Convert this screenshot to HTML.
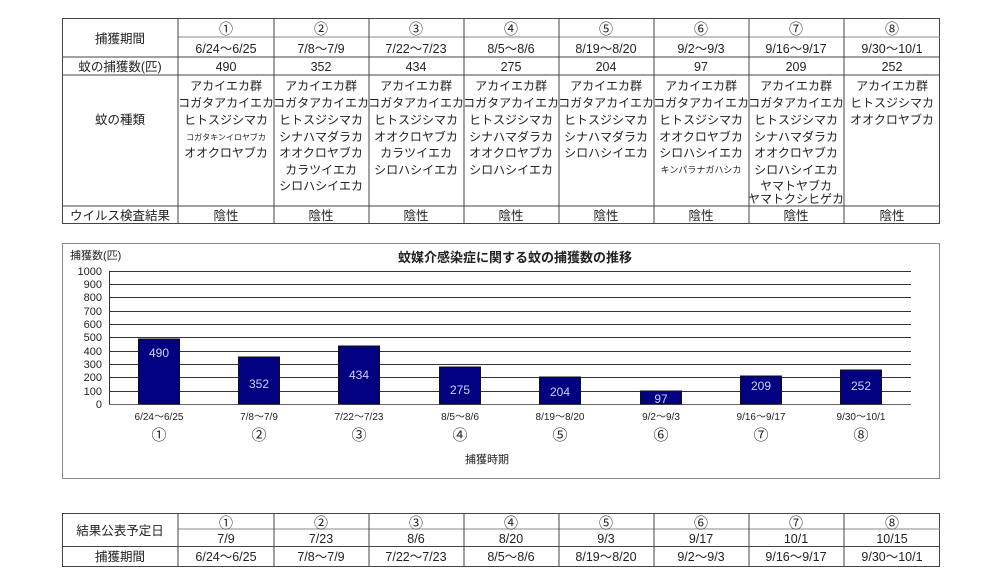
<!DOCTYPE html>
<html><head><meta charset="utf-8"><style>
body{margin:0;background:#fff;}
svg text{font-family:"Liberation Sans","Noto Sans CJK JP",sans-serif;fill:#222;}
svg text.bl{fill:#d0d0ff;}
svg .circ text{font-family:"Noto Sans CJK JP",sans-serif;}
</style></head><body>
<svg width="1000" height="583" viewBox="0 0 1000 583" xmlns="http://www.w3.org/2000/svg">
<g stroke="#444" stroke-width="1" fill="none">
<rect x="62.5" y="18.5" width="877" height="205"/>
<line x1="178" y1="37" x2="940" y2="37" stroke="#888"/>
<line x1="62" y1="57" x2="940" y2="57"/>
<line x1="62" y1="75" x2="940" y2="75"/>
<line x1="62" y1="206" x2="940" y2="206"/>
<line x1="178" y1="18" x2="178" y2="223"/>
<line x1="274" y1="18" x2="274" y2="223"/>
<line x1="369" y1="18" x2="369" y2="223"/>
<line x1="464" y1="18" x2="464" y2="223"/>
<line x1="559" y1="18" x2="559" y2="223"/>
<line x1="654" y1="18" x2="654" y2="223"/>
<line x1="749" y1="18" x2="749" y2="223"/>
<line x1="844" y1="18" x2="844" y2="223"/>
</g>
<g font-size="12.5" text-anchor="middle">
<text x="120" y="43">捕獲期間</text>
<text x="120" y="71">蚊の捕獲数(匹)</text>
<text x="120" y="124">蚊の種類</text>
<text x="120" y="220">ウイルス検査結果</text>
</g>
<g font-size="14" text-anchor="middle" class="circ">
<text x="226" y="34">①</text><text x="321" y="34">②</text><text x="416" y="34">③</text><text x="511" y="34">④</text><text x="606" y="34">⑤</text><text x="701" y="34">⑥</text><text x="796" y="34">⑦</text><text x="892" y="34">⑧</text>
</g>
<g font-size="12.5" text-anchor="middle">
<text x="226" y="53">6/24～6/25</text><text x="321" y="53">7/8～7/9</text><text x="416" y="53">7/22～7/23</text><text x="511" y="53">8/5～8/6</text><text x="606" y="53">8/19～8/20</text><text x="701" y="53">9/2～9/3</text><text x="796" y="53">9/16～9/17</text><text x="892" y="53">9/30～10/1</text>
<text x="226" y="71">490</text><text x="321" y="71">352</text><text x="416" y="71">434</text><text x="511" y="71">275</text><text x="606" y="71">204</text><text x="701" y="71">97</text><text x="796" y="71">209</text><text x="892" y="71">252</text>
<text x="226" y="220">陰性</text><text x="321" y="220">陰性</text><text x="416" y="220">陰性</text><text x="511" y="220">陰性</text><text x="606" y="220">陰性</text><text x="701" y="220">陰性</text><text x="796" y="220">陰性</text><text x="892" y="220">陰性</text>
</g>
<g font-size="12" text-anchor="middle">
<g transform="translate(226,0)"><text y="90">アカイエカ群</text><text y="107">コガタアカイエカ</text><text y="124">ヒトスジシマカ</text><text y="140" font-size="8">コガタキンイロヤブカ</text><text y="157">オオクロヤブカ</text></g>
<g transform="translate(321,0)"><text y="90">アカイエカ群</text><text y="107">コガタアカイエカ</text><text y="124">ヒトスジシマカ</text><text y="141">シナハマダラカ</text><text y="157">オオクロヤブカ</text><text y="174">カラツイエカ</text><text y="190">シロハシイエカ</text></g>
<g transform="translate(416,0)"><text y="90">アカイエカ群</text><text y="107">コガタアカイエカ</text><text y="124">ヒトスジシマカ</text><text y="141">オオクロヤブカ</text><text y="157">カラツイエカ</text><text y="174">シロハシイエカ</text></g>
<g transform="translate(511,0)"><text y="90">アカイエカ群</text><text y="107">コガタアカイエカ</text><text y="124">ヒトスジシマカ</text><text y="141">シナハマダラカ</text><text y="157">オオクロヤブカ</text><text y="174">シロハシイエカ</text></g>
<g transform="translate(606,0)"><text y="90">アカイエカ群</text><text y="107">コガタアカイエカ</text><text y="124">ヒトスジシマカ</text><text y="141">シナハマダラカ</text><text y="157">シロハシイエカ</text></g>
<g transform="translate(701,0)"><text y="90">アカイエカ群</text><text y="107">コガタアカイエカ</text><text y="124">ヒトスジシマカ</text><text y="141">オオクロヤブカ</text><text y="157">シロハシイエカ</text><text y="173" font-size="9">キンパラナガハシカ</text></g>
<g transform="translate(796,0)"><text y="90">アカイエカ群</text><text y="107">コガタアカイエカ</text><text y="124">ヒトスジシマカ</text><text y="141">シナハマダラカ</text><text y="157">オオクロヤブカ</text><text y="174">シロハシイエカ</text><text y="190">ヤマトヤブカ</text><text y="203">ヤマトクシヒゲカ</text></g>
<g transform="translate(892,0)"><text y="90">アカイエカ群</text><text y="107">ヒトスジシマカ</text><text y="124">オオクロヤブカ</text></g>
</g>

<!-- chart -->
<rect x="62.5" y="243.5" width="877" height="235" fill="#fff" stroke="#888"/>
<text x="515" y="262" font-size="13" text-anchor="middle" font-weight="bold">蚊媒介感染症に関する蚊の捕獲数の推移</text>
<text x="70" y="259" font-size="11">捕獲数(匹)</text>
<g stroke="#333" stroke-width="1">
<line x1="109" y1="271.5" x2="911" y2="271.5"/><line x1="109" y1="284.5" x2="911" y2="284.5"/><line x1="109" y1="297.5" x2="911" y2="297.5"/><line x1="109" y1="311.5" x2="911" y2="311.5"/><line x1="109" y1="324.5" x2="911" y2="324.5"/><line x1="109" y1="337.5" x2="911" y2="337.5"/><line x1="109" y1="351.5" x2="911" y2="351.5"/><line x1="109" y1="364.5" x2="911" y2="364.5"/><line x1="109" y1="377.5" x2="911" y2="377.5"/><line x1="109" y1="391.5" x2="911" y2="391.5"/>
<line x1="109.5" y1="271" x2="109.5" y2="404"/>
<line x1="109" y1="404.5" x2="911" y2="404.5" stroke="#666"/>
</g>
<g font-size="11" text-anchor="end">
<text x="102" y="275">1000</text><text x="102" y="288">900</text><text x="102" y="301">800</text><text x="102" y="315">700</text><text x="102" y="328">600</text><text x="102" y="341">500</text><text x="102" y="355">400</text><text x="102" y="368">300</text><text x="102" y="381">200</text><text x="102" y="395">100</text><text x="102" y="408">0</text>
</g>
<g fill="#000080" stroke="#111" stroke-width="1">
<rect x="138.5" y="339" width="41" height="65"/>
<rect x="238.5" y="357" width="41" height="47"/>
<rect x="338.5" y="346" width="41" height="58"/>
<rect x="439.5" y="367" width="41" height="37"/>
<rect x="539.5" y="377" width="41" height="27"/>
<rect x="640.5" y="391" width="41" height="13"/>
<rect x="740.5" y="376" width="41" height="28"/>
<rect x="840.5" y="370" width="41" height="34"/>
</g>
<g font-size="12" text-anchor="middle">
<text class="bl" x="159" y="357">490</text><text class="bl" x="259" y="388">352</text><text class="bl" x="359" y="379">434</text><text class="bl" x="460" y="394">275</text><text class="bl" x="560" y="396">204</text><text class="bl" x="661" y="403">97</text><text class="bl" x="761" y="390">209</text><text class="bl" x="861" y="390">252</text>
</g>
<g font-size="10" text-anchor="middle">
<text x="159" y="420">6/24～6/25</text><text x="259" y="420">7/8～7/9</text><text x="359" y="420">7/22～7/23</text><text x="460" y="420">8/5～8/6</text><text x="560" y="420">8/19～8/20</text><text x="661" y="420">9/2～9/3</text><text x="761" y="420">9/16～9/17</text><text x="861" y="420">9/30～10/1</text>
</g>
<g font-size="15" text-anchor="middle" class="circ">
<text x="159" y="440">①</text><text x="259" y="440">②</text><text x="359" y="440">③</text><text x="460" y="440">④</text><text x="560" y="440">⑤</text><text x="661" y="440">⑥</text><text x="761" y="440">⑦</text><text x="861" y="440">⑧</text>
</g>
<text x="487" y="463" font-size="11" text-anchor="middle">捕獲時期</text>

<!-- bottom table -->
<g stroke="#444" stroke-width="1" fill="none">
<rect x="62.5" y="513.5" width="877" height="53"/>
<line x1="178" y1="529" x2="940" y2="529" stroke="#888"/>
<line x1="62" y1="546.5" x2="940" y2="546.5"/>
<line x1="178" y1="513" x2="178" y2="567"/><line x1="274" y1="513" x2="274" y2="567"/><line x1="369" y1="513" x2="369" y2="567"/><line x1="464" y1="513" x2="464" y2="567"/><line x1="559" y1="513" x2="559" y2="567"/><line x1="654" y1="513" x2="654" y2="567"/><line x1="749" y1="513" x2="749" y2="567"/><line x1="844" y1="513" x2="844" y2="567"/>
</g>
<g font-size="14" text-anchor="middle" class="circ">
<text x="226" y="528">①</text><text x="321" y="528">②</text><text x="416" y="528">③</text><text x="511" y="528">④</text><text x="606" y="528">⑤</text><text x="701" y="528">⑥</text><text x="796" y="528">⑦</text><text x="892" y="528">⑧</text>
</g>
<g font-size="12.5" text-anchor="middle">
<text x="120" y="535">結果公表予定日</text>
<text x="120" y="561">捕獲期間</text>
<text x="226" y="543">7/9</text><text x="321" y="543">7/23</text><text x="416" y="543">8/6</text><text x="511" y="543">8/20</text><text x="606" y="543">9/3</text><text x="701" y="543">9/17</text><text x="796" y="543">10/1</text><text x="892" y="543">10/15</text>
<text x="226" y="561">6/24～6/25</text><text x="321" y="561">7/8～7/9</text><text x="416" y="561">7/22～7/23</text><text x="511" y="561">8/5～8/6</text><text x="606" y="561">8/19～8/20</text><text x="701" y="561">9/2～9/3</text><text x="796" y="561">9/16～9/17</text><text x="892" y="561">9/30～10/1</text>
</g>
</svg>
</body></html>
